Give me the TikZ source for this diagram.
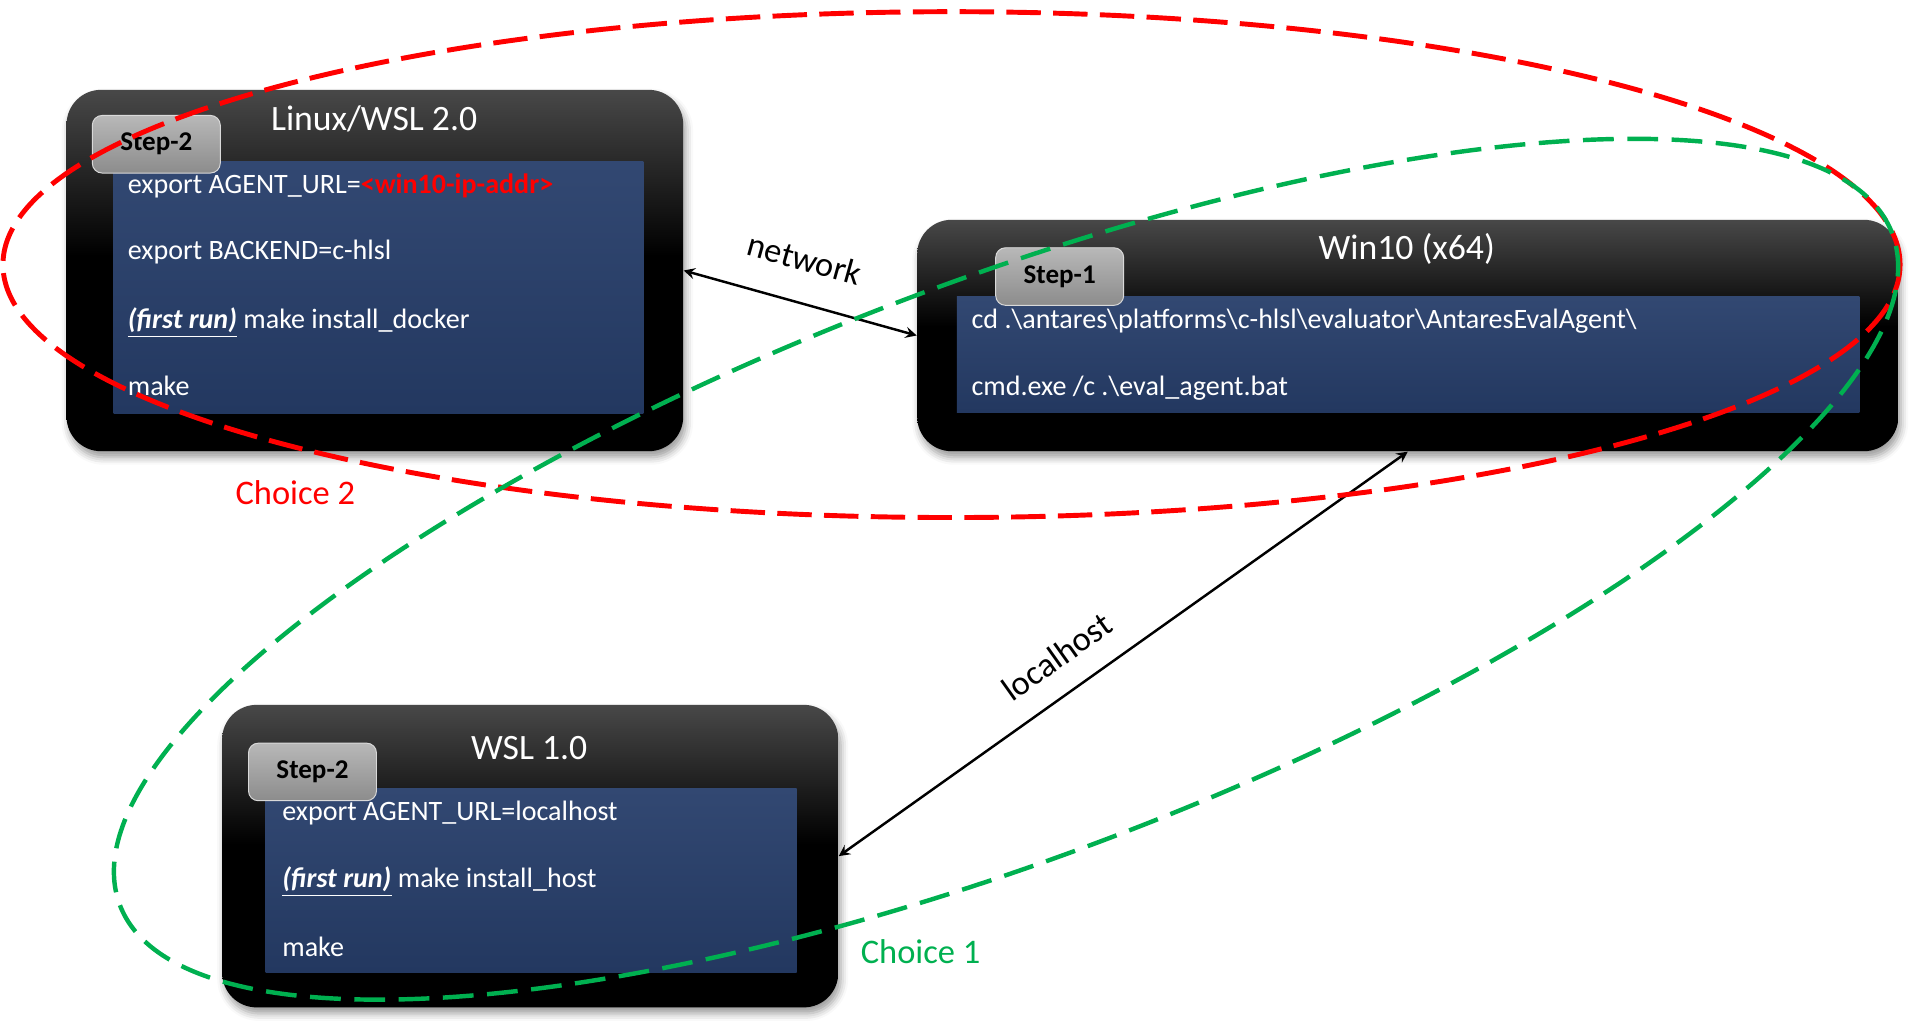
\documentclass[tikz,border=0pt]{standalone}
\usepackage{fontspec}
\setmainfont{Carlito}
\usetikzlibrary{positioning, calc, arrows, shadows.blur}

\definecolor{boxtop}{RGB}{72,72,72}
\definecolor{codetop}{RGB}{50,72,114}
\definecolor{codebot}{RGB}{35,56,96}
\definecolor{tabtop}{RGB}{184,184,184}
\definecolor{tabbot}{RGB}{140,140,140}
\definecolor{choicered}{RGB}{255,0,0}
\definecolor{choicegreen}{RGB}{0,176,80}

\pgfdeclareverticalshading{osshade}{100bp}{color(0bp)=(black); color(25bp)=(black); color(52bp)=(black); color(75bp)=(boxtop); color(100bp)=(boxtop)}

\newcommand\firstrun{\underline{\textbf{\textit{(first run)}}}}

\tikzset{
    osbox/.style={rounded corners=14pt, shading=osshade, inner sep=0pt, anchor=north west,
        blur shadow={shadow xshift=1pt, shadow yshift=-2.5pt, shadow blur radius=3pt, shadow opacity=40}}, % black machine box
    codebox/.style={top color=codetop, bottom color=codebot, inner sep=0pt, anchor=north west},
    steptab/.style={rounded corners=4pt, top color=tabtop, bottom color=tabbot, draw=black!15, line width=0.4pt,
        inner sep=0pt, anchor=north west, minimum width=52pt, minimum height=23.4pt,
        font=\fontsize{11}{13}\bfseries},
    headtxt/.style={text=white, anchor=base, font=\fontsize{14.5}{16}\selectfont},
    codetxt/.style={text=white, anchor=base west, inner sep=0pt, font=\fontsize{11.4}{13}\selectfont},
    labeltxt/.style={font=\fontsize{14}{16}\selectfont},
    link/.style={<->, >=stealth, line width=1pt},
    redring/.style={draw=choicered, line width=2pt, dash pattern=on 14pt off 5pt},
    greenring/.style={draw=choicegreen, line width=1.8pt, dash pattern=on 12.5pt off 5.5pt},
}

\begin{document}
\begin{tikzpicture}[x=0.5pt, y=-0.5pt]
\useasboundingbox (0,0) rectangle (1560,838.5);

% machines
\node[osbox, minimum width=250.5pt, minimum height=146.8pt] (linux) at (53.7,72.6) {};
\node[osbox, minimum width=398.6pt, minimum height=94pt] (win) at (744.8,178.2) {};
\node[osbox, minimum width=250.3pt, minimum height=122.9pt] (wsl) at (180.1,572.3) {};

\node[codebox, minimum width=215.2pt, minimum height=102.3pt] (linuxcode) at (92,130.8) {};
\node[codebox, minimum width=366.7pt, minimum height=47pt] (wincode) at (777,240.5) {};
\node[codebox, minimum width=215.7pt, minimum height=74.9pt] (wslcode) at (215.5,640) {};

\node[steptab] (linuxstep) at (74.6,93.4) {Step-2};
\node[steptab] (winstep) at (808.6,200.9) {Step-1};
\node[steptab] (wslstep) at (201.5,603.4) {Step-2};

\node[headtxt] (linuxtitle) at (304,106) {Linux/WSL 2.0};
\node[headtxt] (wintitle) at (1143,211) {Win10 (x64)};
\node[headtxt] (wsltitle) at (430,617) {WSL 1.0};

% commands
\node[codetxt] (linuxcmd1) at (103.5,157) {export AGENT\_URL=\textcolor{choicered}{\textbf{<win10-ip-addr>}}};
\node[codetxt] (linuxcmd2) at (103.5,211) {export BACKEND=c-hlsl};
\node[codetxt] (linuxcmd3) at (103.5,267) {\firstrun{} make install\_docker};
\node[codetxt] (linuxcmd4) at (103.5,321) {make};

\node[codetxt] (wincmd1) at (789,267) {cd .\textbackslash antares\textbackslash platforms\textbackslash c-hlsl\textbackslash evaluator\textbackslash AntaresEvalAgent\textbackslash};
\node[codetxt] (wincmd2) at (789,321) {cmd.exe /c .\textbackslash eval\_agent.bat};

\node[codetxt] (wslcmd1) at (229,667) {export AGENT\_URL=localhost};
\node[codetxt] (wslcmd2) at (229,721) {\firstrun{} make install\_host};
\node[codetxt] (wslcmd3) at (229,777) {make};

% links
\draw[link] (linux.east) -- node[labeltxt, sloped, above=9pt, pos=0.47] (netlabel) {network} (win.west);
\draw[link] (wsl.east) -- node[labeltxt, sloped, above=6pt, pos=0.42] (hostlabel) {localhost} (win.south);

% choices
\draw[redring] (773.1,215) ellipse [x radius=385.35pt, y radius=102.75pt];
\draw[greenring, rotate around={20.75:(817.4,462.5)}] (817.4,462.5) ellipse [x radius=385pt, y radius=117pt];

\node[labeltxt, text=choicered, anchor=base] (choice2) at (240,410.3) {Choice 2};
\node[labeltxt, text=choicegreen, anchor=base] (choice1) at (748,783) {Choice 1};
\end{tikzpicture}
\end{document}
